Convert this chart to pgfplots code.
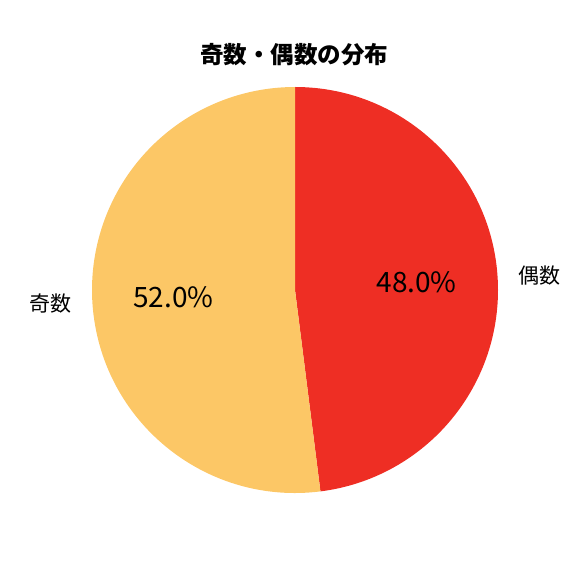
\documentclass[border=0pt]{standalone}
\usepackage{pgfplots}
\pgfplotsset{compat=1.18}
\usepackage{pgfplotstable}
\usepackage{fontspec}
\setmainfont{Noto Sans CJK JP}

\definecolor{evenred}{RGB}{238,46,36}
\definecolor{oddgold}{RGB}{252,199,102}

% share of each group, in percent
\pgfplotstableread{
label share
偶数 48.0
奇数 52.0
}\parity

\begin{document}
\begin{tikzpicture}
\pgfplotstablegetelem{0}{label}\of\parity\edef\labA{\pgfplotsretval}
\pgfplotstablegetelem{1}{label}\of\parity\edef\labB{\pgfplotsretval}
\pgfplotstablegetelem{0}{share}\of\parity\edef\shareA{\pgfplotsretval}
\pgfplotstablegetelem{1}{share}\of\parity\edef\shareB{\pgfplotsretval}
% wedges run clockwise from the top
\pgfmathsetmacro\endA{90-3.6*\shareA}
\pgfmathsetmacro\endB{\endA-3.6*\shareB}
\pgfmathsetmacro\midA{90-1.8*\shareA}
\pgfmathsetmacro\midB{\endA-1.8*\shareB}
\def\cx{295}\def\cy{286}\def\R{203}
\pgfmathsetmacro\lAx{\cx+1.1*\R*cos(\midA)}\pgfmathsetmacro\lAy{\cy+1.1*\R*sin(\midA)}
\pgfmathsetmacro\lBx{\cx+1.1*\R*cos(\midB)}\pgfmathsetmacro\lBy{\cy+1.1*\R*sin(\midB)}
\pgfmathsetmacro\pAx{\cx+0.6*\R*cos(\midA)}\pgfmathsetmacro\pAy{\cy+0.6*\R*sin(\midA)}
\pgfmathsetmacro\pBx{\cx+0.6*\R*cos(\midB)}\pgfmathsetmacro\pBy{\cy+0.6*\R*sin(\midB)}
\begin{axis}[
  hide axis,
  scale only axis,
  x=1pt, y=1pt,
  xmin=0, xmax=576,
  ymin=0, ymax=576,
  clip=false,
]
\path (axis cs:0,0) rectangle (axis cs:576,576);
\fill[evenred] (axis cs:\cx,\cy) -- (axis cs:\cx,\cy+\R)
  arc[start angle=90, end angle=\endA, radius=\R pt] -- cycle;
\fill[oddgold] (axis cs:\cx,\cy) -- ++(\endA:\R pt)
  arc[start angle=\endA, end angle=\endB, radius=\R pt] -- cycle;
\node[anchor=west, inner sep=0pt, font=\fontsize{21}{25}\selectfont] at (axis cs:\lAx,\lAy) {\labA};
\node[anchor=east, inner sep=0pt, font=\fontsize{21}{25}\selectfont] at (axis cs:\lBx,\lBy) {\labB};
\node[font=\fontsize{28}{34}\selectfont] at (axis cs:\pAx,\pAy) {\shareA\%};
\node[font=\fontsize{28}{34}\selectfont] at (axis cs:\pBx,\pBy) {\shareB\%};
\node[font=\fontsize{23.5}{28}\selectfont\bfseries] at (axis cs:294,521) {奇数・偶数の分布};
\end{axis}
\end{tikzpicture}
\end{document}
